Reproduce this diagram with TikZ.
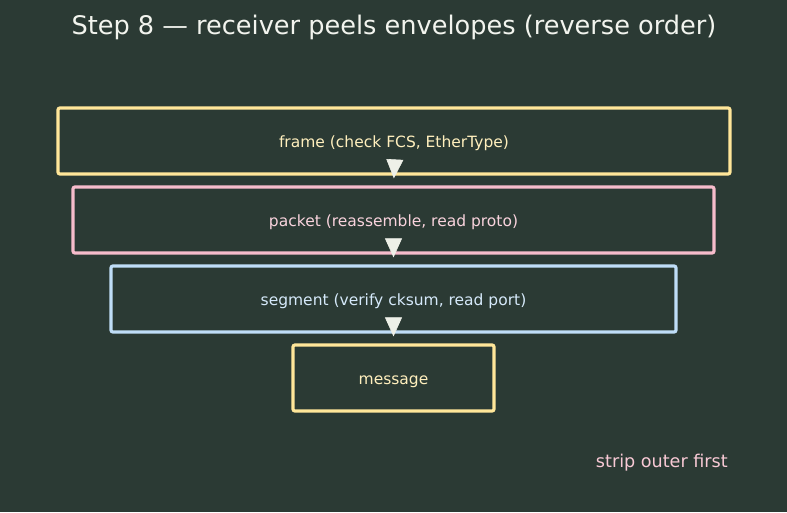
\documentclass[tikz,border=0pt]{standalone}
\usepackage{fontspec}
\setmainfont{DejaVu Sans}
\usetikzlibrary{arrows.meta}
\definecolor{bg}{HTML}{2B3A34}
\definecolor{cyel}{HTML}{FFE699}
\definecolor{cpink}{HTML}{F6BCCB}
\definecolor{cblue}{HTML}{BFDDF7}
\definecolor{carr}{HTML}{EEF0E8}
\definecolor{ctitle}{HTML}{F2F4EE}
\newcommand{\lowtxt}[1]{\raisebox{-6pt}[0pt][0pt]{#1}}
\begin{document}
\begin{tikzpicture}[x=1pt,y=-1pt,
  layer/.style={draw=#1, line width=3.2pt, rounded corners=2pt, text=#1!65!white, font=\fontsize{15.5}{18}\selectfont, inner sep=0pt},
  flow/.style={draw=carr, line width=0.6pt, -{Triangle[length=19pt,width=17pt]}, shorten >=7pt}]
\fill[bg] (0,0) rectangle (787,512);
\useasboundingbox (0,0) rectangle (787,512);
\node[text=ctitle, font=\fontsize{25.6}{30}\selectfont] (title) at (394,27) {Step 8 — receiver peels envelopes (reverse order)};
\node[layer=cyel, minimum width=672pt, minimum height=66pt] (frame) at (394,141) {\lowtxt{frame (check FCS, EtherType)}};
\node[layer=cpink, minimum width=641pt, minimum height=66pt] (packet) at (393.5,220) {\lowtxt{packet (reassemble, read proto)}};
\node[layer=cblue, minimum width=565pt, minimum height=66pt] (segment) at (393.5,299) {\lowtxt{segment (verify cksum, read port)}};
\node[layer=cyel, minimum width=201pt, minimum height=66pt] (message) at (393.5,378) {\lowtxt{message}};
\draw[flow] (frame.south) -- (packet.north);
\draw[flow] (packet.south) -- (segment.north);
\draw[flow] (segment.south) -- (message.north);
\node[text=cpink!80!white, font=\fontsize{17.6}{21}\selectfont, anchor=east, inner sep=0pt] (note) at (728,463) {strip outer first};
\end{tikzpicture}
\end{document}
